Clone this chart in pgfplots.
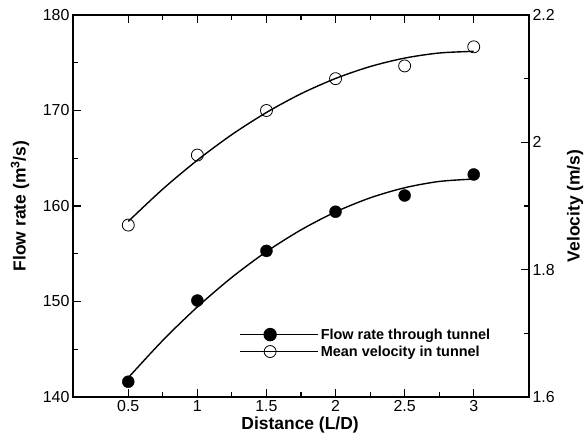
\documentclass[border=0pt]{standalone}
\usepackage{fontspec}
\setmainfont{Liberation Sans}
\usepackage{pgfplots}
\pgfplotsset{compat=1.18}

\pgfplotsset{
  common/.style={
    scale only axis, width=456bp, height=382bp,
    xmin=0.1, xmax=3.4,
    tick align=inside,
    axis line style={line width=1.5bp},
    tick style={line width=1.1bp, black},
    major tick length=8bp, minor tick length=5bp,
    /pgf/number format/assume math mode=true,
    tick label style={font=\fontsize{16}{18}\selectfont},
    label style={font=\fontsize{17.5}{20}\selectfont\bfseries},
  },
}

\begin{document}
\begin{tikzpicture}
\begin{axis}[common, name=a,
  ymin=140, ymax=180,
  xtick={0.5,1,1.5,2,2.5,3}, minor x tick num=1,
  ytick={140,150,160,170,180}, minor y tick num=1,
  xtick pos=both, xticklabel pos=bottom,
  ytick pos=left,
  xlabel={Distance (L/D)},
  ylabel={Flow rate (m\textsuperscript{3}/s)},
  xlabel style={at={(axis description cs:0.498,-0.073)}, anchor=center},
  ylabel style={at={(axis description cs:-0.116,0.5)}, anchor=center},
  legend style={at={(axis description cs:0.358,0.19)}, anchor=north west,
    draw=none, fill=none, font=\fontsize{14.5}{17}\selectfont\bfseries,
    row sep=1bp,
    legend cell align=left},
  legend image code/.code={%
    \path (0bp,0bp) -- (78bp,0bp);
    \draw[mark repeat=2, mark phase=2, #1] plot coordinates {(0bp,0bp) (30bp,0bp) (61bp,0bp)};},
]
  % fitted curve, flow rate
  \addplot[black, line width=1.4bp, smooth, forget plot] coordinates {
    (0.5,142.02) (0.75,145.93) (1.0,149.43) (1.25,152.53) (1.5,155.22)
    (1.75,157.50) (2.0,159.38) (2.25,160.85) (2.5,161.91) (2.75,162.57) (3.0,162.82)
  };
  % measured flow rate
  \addplot[only marks, mark=*, mark size=6bp, black, forget plot] coordinates {
    (0.5,141.6) (1.0,150.1) (1.5,155.3) (2.0,159.4) (2.5,161.1) (3.0,163.3)
  };
  \addlegendimage{black, line width=1.4bp, mark=*, mark size=6bp, mark options={solid}}
  \addlegendentry{Flow rate through tunnel}
  \addlegendimage{black, line width=1.4bp, mark=o, mark size=6bp, mark options={solid, fill=white, line width=0.8bp}}
  \addlegendentry{Mean velocity in tunnel}
\end{axis}

\begin{axis}[common,
  ymin=1.6, ymax=2.2,
  axis x line=none,
  axis y line*=right,
  ytick={1.6,1.8,2.0,2.2}, minor y tick num=1,
  ylabel={Velocity (m/s)},
  ylabel style={at={(axis description cs:1.101,0.5)}, anchor=center},
]
  % fitted curve, velocity
  \addplot[black, line width=1.4bp, smooth] coordinates {
    (0.5,1.8758) (0.75,1.9266) (1.0,1.9720) (1.25,2.0122) (1.5,2.0469)
    (1.75,2.0763) (2.0,2.1003) (2.25,2.1190) (2.5,2.1323) (2.75,2.1403) (3.0,2.1429)
  };
  % measured velocity
  \addplot[only marks, mark=o, mark size=6bp, black, mark options={fill=white, line width=0.8bp}] coordinates {
    (0.5,1.87) (1.0,1.98) (1.5,2.05) (2.0,2.10) (2.5,2.12) (3.0,2.15)
  };
\end{axis}

\pgfresetboundingbox
\path (a.south west) ++(-73bp,-39bp) rectangle ++(586bp,436bp);
\end{tikzpicture}
\end{document}
